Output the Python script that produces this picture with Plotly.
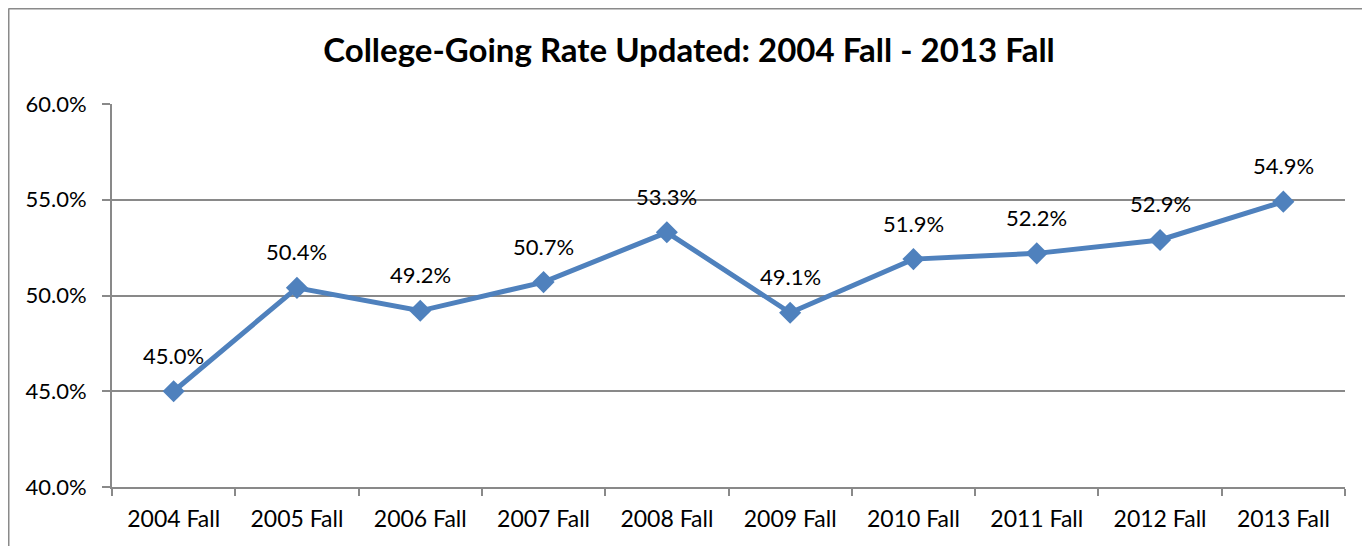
import plotly.graph_objects as go

categories = ["2004 Fall", "2005 Fall", "2006 Fall", "2007 Fall", "2008 Fall",
              "2009 Fall", "2010 Fall", "2011 Fall", "2012 Fall", "2013 Fall"]
rates = [45.0, 50.4, 49.2, 50.7, 53.3, 49.1, 51.9, 52.2, 52.9, 54.9]
y_ticks = [40, 45, 50, 55, 60]
y_tick_labels = ["40.0%", "45.0%", "50.0%", "55.0%", "60.0%"]
title = "College-Going Rate Updated: 2004 Fall - 2013 Fall"

# page body has an 8px margin, so the figure starts at (8, 8) on screen
W, H = 1362, 538
ML, MR, MT, MB = 104, 25, 96, 59
PW, PH = W - ML - MR, H - MT - MB
FONT = "Lato"
BLUE = "#4F81BD"
GRID = "#898989"
BORDER = "#8a8a8a"

fig = go.Figure()
fig.add_trace(go.Scatter(
    x=categories, y=rates, mode="lines+markers",
    line=dict(color=BLUE, width=5),
    marker=dict(symbol="diamond", size=17, color=BLUE),
    hoverinfo="skip", showlegend=False,
))
for c, v in zip(categories, rates):
    fig.add_annotation(x=c, y=v, text=f"{v:.1f}%", showarrow=False,
                       yshift=36, font=dict(family=FONT, size=22, color="#000"))

# outer chart border: only left and top edges are visible in the reference
left_x = (0.5 - ML) / PW
top_y = 1 + (MT - 0.5) / PH
fig.add_shape(type="line", xref="paper", yref="paper",
              x0=left_x, x1=left_x, y0=-(MB + 20) / PH, y1=top_y,
              line=dict(color=BORDER, width=2), layer="below")
fig.add_shape(type="line", xref="paper", yref="paper",
              x0=left_x, x1=(W + 20 - ML) / PW, y0=top_y, y1=top_y,
              line=dict(color=BORDER, width=2), layer="below")

fig.update_layout(
    width=W, height=H,
    margin=dict(l=ML, r=MR, t=MT, b=MB),
    paper_bgcolor="white", plot_bgcolor="white",
    title=dict(text=f"<b>{title}</b>", x=0.5, xanchor="center",
               y=1 - 42 / H, yanchor="middle",
               font=dict(family=FONT, size=33, color="#000")),
    font=dict(family=FONT, size=22, color="#000"),
    xaxis=dict(type="category", range=[-0.5, 9.5], tickson="boundaries",
               ticks="outside", ticklen=7, tickcolor=GRID, tickwidth=2,
               showline=True, linecolor=GRID, linewidth=2, showgrid=False,
               ticklabelstandoff=10,
               tickfont=dict(family=FONT, size=23), fixedrange=True),
    yaxis=dict(range=[40, 60], tickvals=y_ticks, ticktext=y_tick_labels,
               ticks="outside", ticklen=8, tickcolor=GRID, tickwidth=2,
               showline=True, linecolor=GRID, linewidth=2,
               showgrid=True, gridcolor=GRID, gridwidth=1.5, zeroline=False,
               ticklabelstandoff=11,
               tickfont=dict(family=FONT, size=22), fixedrange=True),
)
fig.write_html("out.html")
